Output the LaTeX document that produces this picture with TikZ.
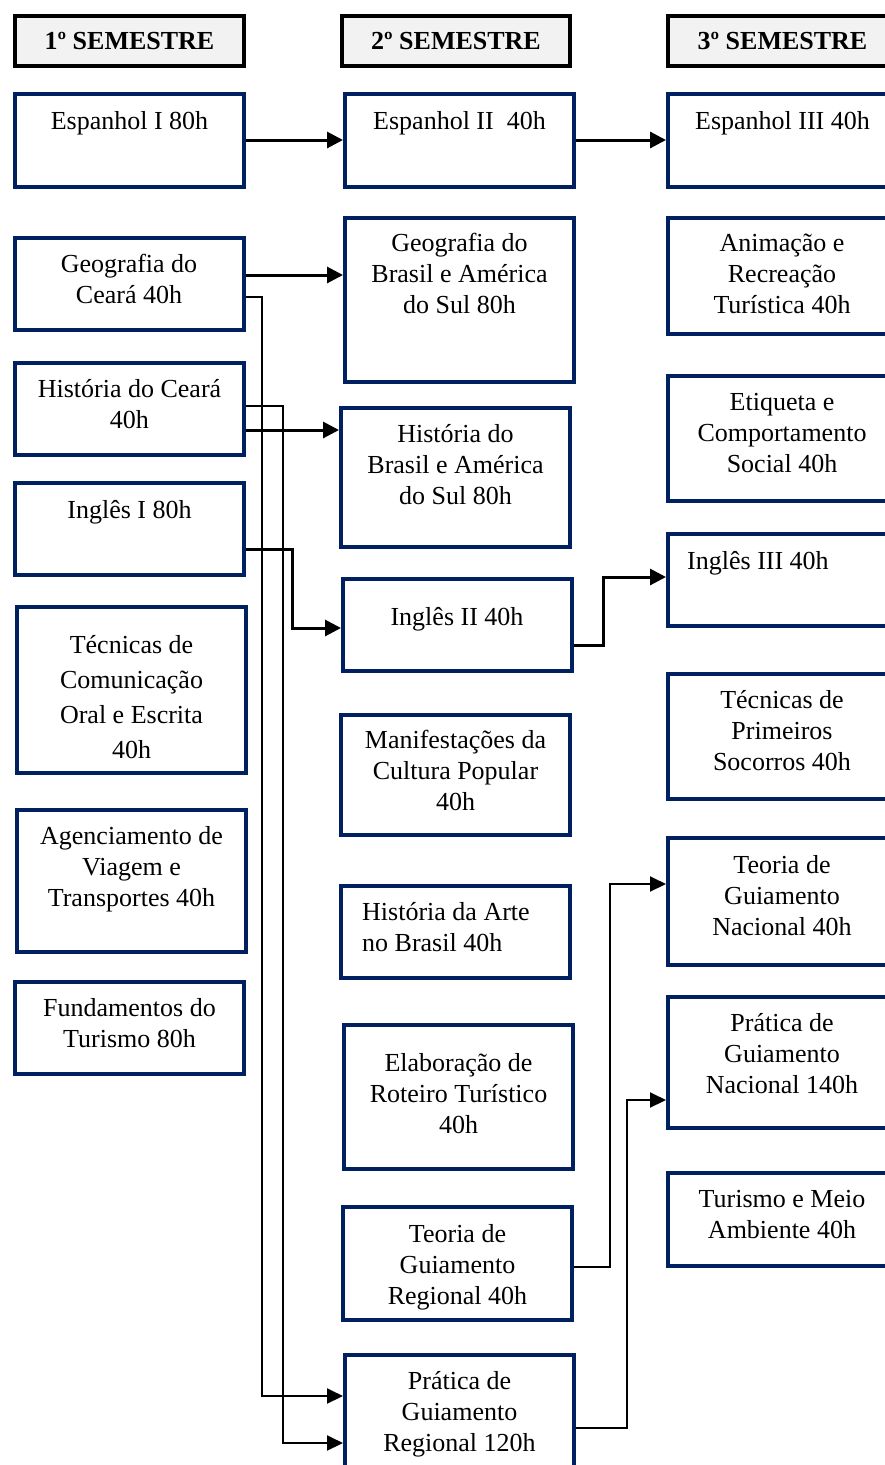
\documentclass[tikz,border=0pt]{standalone}
\usepackage{fontspec}
\setmainfont{Liberation Serif}
\usetikzlibrary{arrows.meta}
\definecolor{navy}{HTML}{002060}
\definecolor{hdrfill}{HTML}{F2F2F2}
\newcommand\mybox[6]{\node[#6, minimum width={(#4)-(#2)-4}, minimum height={(#5)-(#3)-4}] (#1) at ({((#2)+(#4))/2},{((#3)+(#5))/2}) {};}
\tikzset{
  course/.style={draw=navy, line width=4pt, fill=white, inner sep=0pt},
  hdr/.style={draw=black, line width=4pt, fill=hdrfill, inner sep=0pt, font=\fontsize{26}{31}\selectfont\bfseries},
  txt/.style={inner sep=0pt, align=center, anchor=north, font=\fontsize{26}{31}\selectfont},
  txtl/.style={inner sep=0pt, align=left, anchor=north west, font=\fontsize{26}{31}\selectfont},
  arr/.style={line width=3pt, -{Triangle[length=16pt,width=16pt]}},
  arrthin/.style={line width=2pt, -{Triangle[length=16pt,width=15pt]}}
}
\begin{document}
\begin{tikzpicture}[x=1pt,y=-1pt]
\useasboundingbox (0,0) rectangle (885,1465);
\clip (0,0) rectangle (885,1465);
% headers
\node[hdr, minimum width=229pt, minimum height=50pt] (h1) at (129.5,41) {1º SEMESTRE};
\node[hdr, minimum width=228pt, minimum height=50pt] (h2) at (456,41) {2º SEMESTRE};
\node[hdr, minimum width=229pt, minimum height=50pt] (h3) at (782.5,41) {3º SEMESTRE};
% column 1
\mybox{esp1}{13}{92}{246}{189}{course}
\mybox{geoce}{13}{236}{246}{332}{course}
\mybox{hisce}{13}{361}{246}{457}{course}
\mybox{ing1}{13}{481}{246}{577}{course}
\mybox{tec}{15}{605}{248}{775}{course}
\mybox{agen}{15}{808}{248}{954}{course}
\mybox{fund}{13}{980}{246}{1076}{course}
% column 2
\mybox{esp2}{343}{92}{576}{189}{course}
\mybox{geobr}{343}{216}{576}{384}{course}
\mybox{hisbr}{339}{406}{572}{549}{course}
\mybox{ing2}{341}{577}{574}{673}{course}
\mybox{manif}{339}{713}{572}{837}{course}
\mybox{arte}{339}{884}{572}{980}{course}
\mybox{elab}{342}{1023}{575}{1171}{course}
\mybox{teoreg}{341}{1205}{574}{1322}{course}
\mybox{pratreg}{343}{1353}{576}{1485}{course}
% column 3
\mybox{esp3}{666}{92}{899}{189}{course}
\mybox{anim}{666}{216}{899}{336}{course}
\mybox{etiq}{666}{374}{899}{503}{course}
\mybox{ing3}{666}{532}{899}{628}{course}
\mybox{socor}{666}{672}{899}{801}{course}
\mybox{teonac}{666}{836}{899}{967}{course}
\mybox{pratnac}{666}{995}{899}{1130}{course}
\mybox{turis}{666}{1171}{899}{1268}{course}
% texts column 1
\node[txt] (esp1t) at (129.5,108) {\strut Espanhol I 80h};
\node[txt] (geocet) at (129,251) {\strut Geografia do\\Ceará 40h};
\node[txt] (hiscet) at (129.5,376) {\strut História do Ceará\\40h};
\node[txt] (ing1t) at (129.5,497) {\strut Inglês I 80h};
\node[txt, font=\fontsize{26}{35}\selectfont] (tect) at (131.5,629) {\strut Técnicas de\\Comunicação\\Oral e Escrita\\40h};
\node[txt] (agent) at (131.5,823) {\strut Agenciamento de\\Viagem e\\Transportes 40h};
\node[txt] (fundt) at (129.5,995) {\strut Fundamentos do\\Turismo 80h};
% texts column 2
\node[txt] (esp2t) at (459.5,108) {\strut Espanhol II~~40h};
\node[txt] (geobrt) at (459.5,230) {\strut Geografia do\\Brasil e América\\do Sul 80h};
\node[txt] (hisbrt) at (455.5,421) {\strut História do\\Brasil e América\\do Sul 80h};
\node[txt] (ing2t) at (457,604) {\strut Inglês II 40h};
\node[txt] (manift) at (455.5,727) {\strut Manifestações da\\Cultura Popular\\40h};
\node[txtl] (artet) at (362,899) {\strut História da Arte\\no Brasil 40h};
\node[txt] (elabt) at (458.5,1050) {\strut Elaboração de\\Roteiro Turístico\\40h};
\node[txt] (teoregt) at (457.5,1221) {\strut Teoria de\\Guiamento\\Regional 40h};
\node[txt] (pratregt) at (459.5,1368) {\strut Prática de\\Guiamento\\Regional 120h};
% texts column 3
\node[txt] (esp3t) at (782.5,108) {\strut Espanhol III 40h};
\node[txt] (animt) at (782,230) {\strut Animação e\\Recreação\\Turística 40h};
\node[txt] (etiqt) at (782,389) {\strut Etiqueta e\\Comportamento\\Social 40h};
\node[txtl] (ing3t) at (687,548) {\strut Inglês III 40h};
\node[txt] (socort) at (782,687) {\strut Técnicas de\\Primeiros\\Socorros 40h};
\node[txt] (teonact) at (782,852) {\strut Teoria de\\Guiamento\\Nacional 40h};
\node[txt] (pratnact) at (782,1010) {\strut Prática de\\Guiamento\\Nacional 140h};
\node[txt] (turist) at (782,1186) {\strut Turismo e Meio\\Ambiente 40h};
% connectors
\draw[arr] (esp1.east |- 0,140) -- (esp2.west |- 0,140);
\draw[arr] (esp2.east |- 0,140) -- (esp3.west |- 0,140);
\draw[arr] (geoce.east |- 0,275) -- (geobr.west |- 0,275);
\draw[arr] (hisce.east |- 0,430) -- (hisbr.west |- 0,430);
\draw[arrthin] (geoce.east |- 0,297) -- ++(16,0) |- (pratreg.west |- 0,1396);
\draw[arrthin] (hisce.east |- 0,406) -- ++(37,0) |- (pratreg.west |- 0,1443);
\draw[arr] (ing1.east |- 0,549) -- ++(46,0) |- (ing2.west |- 0,628);
\draw[arr] (ing2.east |- 0,645) -- ++(29,0) |- (ing3.west |- 0,577);
\draw[arrthin] (teoreg.east |- 0,1267) -- ++(36,0) |- (teonac.west |- 0,884);
\draw[arrthin] (pratreg.east |- 0,1428) -- ++(51,0) |- (pratnac.west |- 0,1100);
\end{tikzpicture}
\end{document}
